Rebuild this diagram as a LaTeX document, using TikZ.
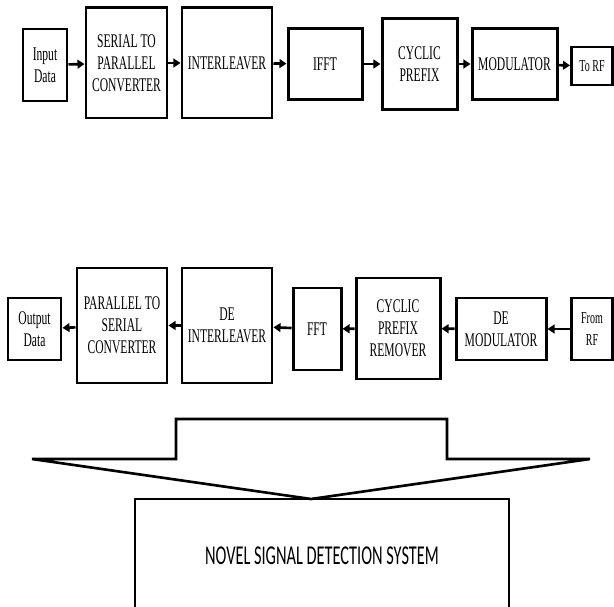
\documentclass[tikz,border=0pt]{standalone}
\usepackage{fontspec}
\setmainfont{Liberation Serif}[FakeStretch=0.6]
\newfontfamily\novelfont{Carlito}[FakeStretch=0.6]
\usetikzlibrary{arrows.meta}

\begin{document}
\begin{tikzpicture}[x=0.02cm, y=-0.02cm,
    blk/.style 2 args={draw, line width=1.7pt, minimum width=#1*0.02cm, minimum height=#2*0.02cm,
        inner sep=0pt, align=center, font=\fontsize{11}{12.5}\selectfont},
    small/.style={font=\fontsize{9.5}{12}\selectfont},
    flow/.style={-{Triangle[length=4pt,width=5pt]}, line width=1.5pt}
]
\useasboundingbox (0,0) rectangle (614,607);
\clip (0,0) rectangle (614,607);

% transmitter chain
\node[blk={44}{72}] (in) at (45,65) {Input\\Data};
\node[blk={81}{110}] (s2p) at (126.5,63) {SERIAL TO\\PARALLEL\\CONVERTER};
\node[blk={90}{110}] (intl) at (227,63) {INTERLEAVER};
\node[blk={74}{71}] (ifft) at (325,64) {IFFT};
\node[blk={75}{91}] (cp) at (419.5,64) {CYCLIC\\PREFIX};
\node[blk={85}{71}] (mod) at (514.5,64) {MODULATOR};
\node[blk={41}{38}, small] (torf) at (592,66) {To RF};

\foreach \a/\b in {in/s2p, s2p/intl, intl/ifft, ifft/cp, cp/mod, mod/torf}
    \draw[flow] (\a) -- (\b);

% receiver chain
\node[blk={53}{62}] (out) at (34.5,329) {Output\\Data};
\node[blk={90}{115}] (p2s) at (122,325.5) {PARALLEL TO\\SERIAL\\CONVERTER};
\node[blk={90}{115}] (deint) at (227,325.5) {DE\\INTERLEAVER};
\node[blk={48}{82}] (fft) at (317,329) {FFT};
\node[blk={84}{101}] (cpr) at (398,328.5) {CYCLIC\\PREFIX\\REMOVER};
\node[blk={90}{62}] (demod) at (501,329) {DE\\MODULATOR};
\node[blk={41}{62}, small] (fromrf) at (592,329) {From\\RF};

\foreach \a/\b in {fromrf/demod, demod/cpr, cpr/fft, fft/deint, deint/p2s, p2s/out}
    \draw[flow] (\a) -- (\b);

% block arrow down to the detector
\draw[line width=1.5pt] (32,459) -- (176,459) -- (176,419) -- (447,419) -- (447,459)
    -- (590,459) -- (311,499) -- cycle;
\node[draw, line width=1.1pt, minimum width=374*0.02cm, minimum height=114*0.02cm,
    font=\novelfont\fontsize{15.5}{18}\selectfont] (novel) at (322,556) {NOVEL SIGNAL DETECTION SYSTEM};
\end{tikzpicture}
\end{document}
